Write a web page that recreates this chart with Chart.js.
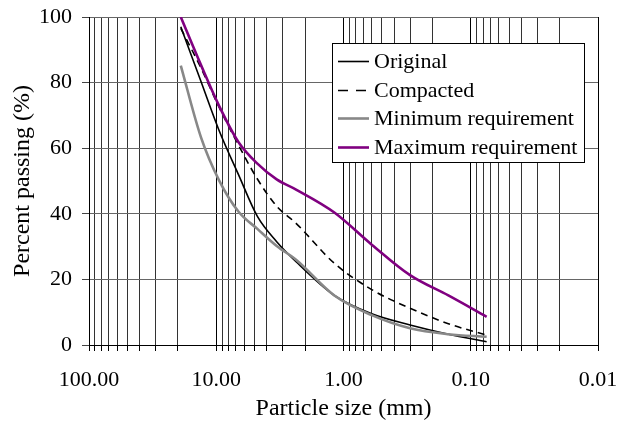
<!DOCTYPE html>
<html>
<head>
<meta charset="utf-8">
<script src="https://cdn.jsdelivr.net/npm/chart.js@4"></script>
<style>
  html, body { margin: 0; padding: 0; background: #fff; }
  #wrap { width: 619px; height: 425px; }
</style>
</head>
<body>
<div id="wrap"><canvas id="gradingChart" width="619" height="425"></canvas></div>
<script>
// sieve sizes (mm) and % passing
const sieveSizes = [19, 13.2, 9.5, 6.7, 4.75, 3.35, 2.36, 1.18, 0.6, 0.3, 0.15, 0.075];
const originalPassing = [97, 80.4, 65.4, 52, 39.2, 31.5, 25.4, 15.1, 9.5, 6.1, 3.3, 1];
const compactedPassing = [96.5, 84.5, 72.5, 61, 50.6, 42.3, 37.1, 24.9, 16.9, 11.2, 6.5, 3];
const minimumPassing = [85.2, 63.4, 50.2, 40.7, 35.4, 30.2, 26, 15.1, 9.1, 5.1, 3.3, 2.5];
const maximumPassing = [100, 85.4, 72.9, 61.9, 55.3, 50.5, 47.4, 40.4, 30.6, 21.3, 15.1, 8.6];

const seriesNames = ['Original', 'Compacted', 'Minimum requirement', 'Maximum requirement'];
const xDecades = [0.01, 0.1, 1, 10];
const xTickValues = [100, 10, 1, 0.1, 0.01];
const xTickLabels = ['100.00', '10.00', '1.00', '0.10', '0.01'];

const FONT = "'Liberation Serif', 'Times New Roman', serif";
Chart.defaults.font.family = FONT;
Chart.defaults.font.size = 22;
Chart.defaults.color = '#000';

const toPoints = values => sieveSizes.map((s, i) => ({ x: s, y: values[i] }));
const isDecade = value => xTickValues.some(v => Math.abs(v - value) < v * 1e-6);

// legend drawn as a boxed key inside the plot, like the original figure
const legendBox = {
    id: 'legendBox',
    afterDraw(chart) {
        const { ctx, chartArea } = chart;
        const bx = chartArea.left + 243;
        const by = chartArea.top + 26;
        const bw = 252;
        const bh = 119;
        ctx.save();
        ctx.fillStyle = '#fff';
        ctx.fillRect(bx, by, bw, bh);
        ctx.strokeStyle = '#000';
        ctx.lineWidth = 1;
        ctx.strokeRect(bx + 0.5, by + 0.5, bw, bh);
        ctx.font = `22px ${FONT}`;
        ctx.textBaseline = 'middle';
        chart.data.datasets.forEach((ds, i) => {
            const rowY = Math.round(by + 18 + i * 28.5) + 0.5;
            ctx.beginPath();
            ctx.setLineDash(ds.borderDash ? [10, 8] : []);
            ctx.strokeStyle = ds.borderColor;
            ctx.lineWidth = ds.borderWidth;
            ctx.moveTo(bx + 6, rowY);
            ctx.lineTo(bx + 37, rowY);
            ctx.stroke();
            ctx.setLineDash([]);
            ctx.fillStyle = '#000';
            ctx.fillText(ds.label, bx + 42, rowY + 1);
        });
        ctx.restore();
    }
};

const ctx = document.getElementById('gradingChart').getContext('2d');
new Chart(ctx, {
    type: 'scatter',
    data: {
        datasets: [
            {
                label: seriesNames[0],
                data: toPoints(originalPassing),
                borderColor: '#000',
                borderWidth: 1.6,
                order: 3
            },
            {
                label: seriesNames[1],
                data: toPoints(compactedPassing),
                borderColor: '#000',
                borderWidth: 1.6,
                borderDash: [7, 5],
                order: 2
            },
            {
                label: seriesNames[2],
                data: toPoints(minimumPassing),
                borderColor: '#888',
                borderWidth: 2.6,
                order: 1
            },
            {
                label: seriesNames[3],
                data: toPoints(maximumPassing),
                borderColor: '#800080',
                borderWidth: 2.6,
                order: 0
            }
        ]
    },
    options: {
        responsive: false,
        animation: false,
        showLine: true,
        elements: {
            point: { radius: 0, hoverRadius: 0 },
            line: { cubicInterpolationMode: 'monotone', fill: false }
        },
        layout: { padding: { top: 17, right: 21, bottom: 0, left: 0 } },
        plugins: {
            legend: { display: false },
            tooltip: { enabled: false }
        },
        scales: {
            x: {
                type: 'logarithmic',
                reverse: true,
                min: 0.01,
                max: 100,
                afterBuildTicks: scale => {
                    const ticks = [];
                    xDecades.forEach(d => {
                        for (let m = 1; m <= 9; m++) ticks.push({ value: +(d * m).toPrecision(3) });
                    });
                    ticks.push({ value: 100 });
                    scale.ticks = ticks;
                },
                afterFit: scale => { scale.height = 80; },
                ticks: {
                    autoSkip: false,
                    maxRotation: 0,
                    padding: 16,
                    callback: value => {
                        const idx = xTickValues.findIndex(v => Math.abs(v - value) < v * 1e-6);
                        return idx >= 0 ? xTickLabels[idx] : '';
                    }
                },
                grid: {
                    color: ctx => (ctx.tick && isDecade(ctx.tick.value)) ? '#000' : '#333',
                    lineWidth: 1,
                    tickLength: 6,
                    tickColor: '#000'
                },
                border: { color: '#000', width: 1 },
                title: {
                    display: true,
                    text: 'Particle size (mm)',
                    font: { size: 24 },
                    padding: { top: 0, bottom: 2 }
                }
            },
            y: {
                min: 0,
                max: 100,
                afterFit: scale => {
                    scale.width = 89;
                    scale.paddingTop = 0;
                    scale.paddingBottom = 0;
                },
                ticks: { stepSize: 20, padding: 10 },
                grid: {
                    color: '#666',
                    lineWidth: 1,
                    tickLength: 7,
                    tickColor: '#444'
                },
                border: { color: '#000', width: 1 },
                title: {
                    display: true,
                    text: 'Percent passing (%)',
                    font: { size: 24 },
                    padding: { top: 8, bottom: 0 }
                }
            }
        }
    },
    plugins: [legendBox]
});
</script>
</body>
</html>
